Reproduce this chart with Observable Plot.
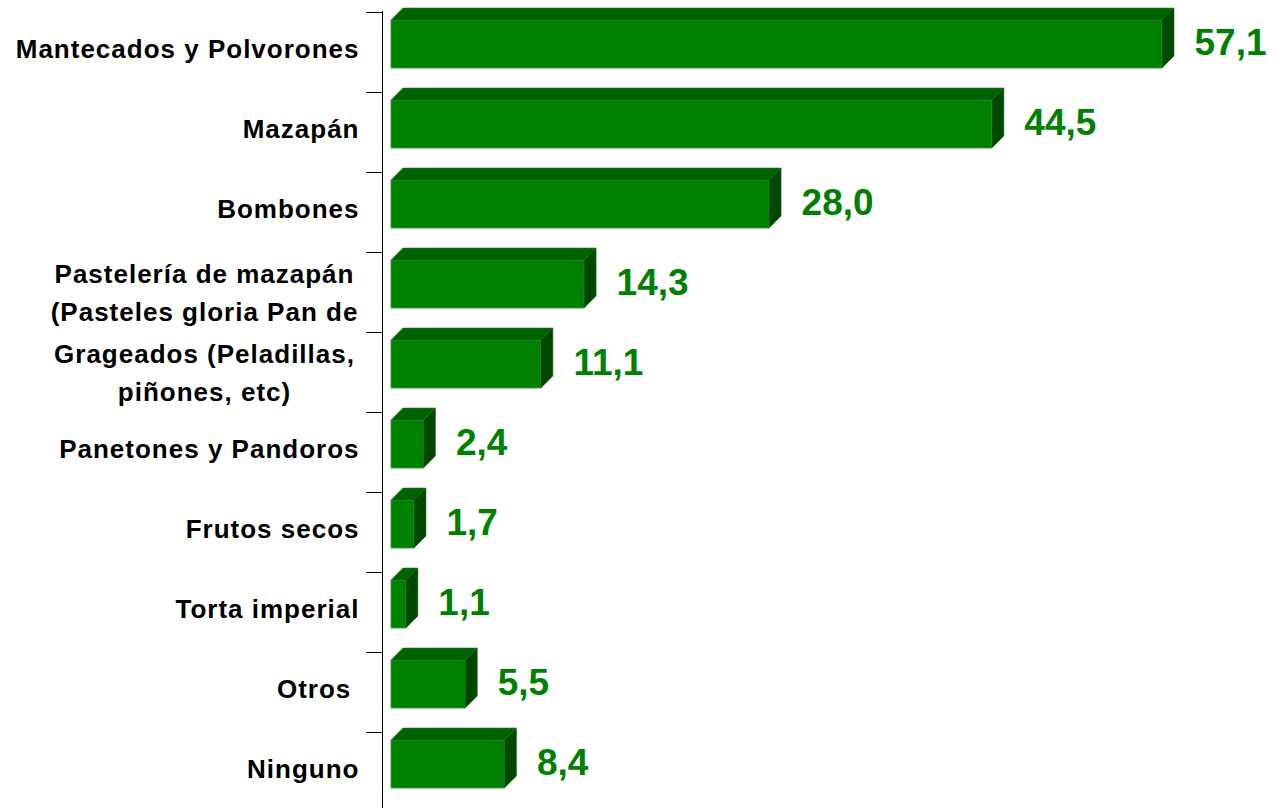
<!DOCTYPE html>
<html>
<head>
<meta charset="utf-8">
<script src="https://cdn.jsdelivr.net/npm/d3@7"></script>
<script src="https://cdn.jsdelivr.net/npm/@observablehq/plot@0.6"></script>
<style>
  html, body { margin: 0; padding: 0; background: #fff; overflow: hidden; }
  svg text { white-space: pre; }
</style>
</head>
<body>
<div id="chart"></div>
<script>
const categories = [
  "Mantecados y Polvorones",
  "Mazapán",
  "Bombones",
  "Pastelería de mazapán\n(Pasteles gloria Pan de",
  "Grageados (Peladillas,\npiñones, etc)",
  "Panetones y Pandoros",
  "Frutos secos",
  "Torta imperial",
  "Otros ",
  "Ninguno"
];
const values = [57.1, 44.5, 28.0, 14.3, 11.1, 2.4, 1.7, 1.1, 5.5, 8.4];

const data = categories.map((c, i) => ({cat: c, value: values[i]}));
const fmt = v => d3.format(".1f")(v).replace(".", ",");

const FRONT = "#008000", TOP = "#006200", SIDE = "#004700";
const DEPTH = 12;

const chart = Plot.plot({
  width: 1278,
  height: 808,
  marginLeft: 391,
  marginRight: 116,
  marginTop: 11,
  marginBottom: 0,
  x: {domain: [0, 57.1], axis: null},
  y: {domain: categories, range: [12, 812], padding: 0, axis: null},
  style: {fontFamily: "'Liberation Sans', Arial, sans-serif", background: "#fff"},
  marks: [
    Plot.ruleX([0], {dx: -9, stroke: "#000", strokeWidth: 1}),
    Plot.barX(data, {x: "value", y: "cat", fill: FRONT, stroke: "#2f9a2f", strokeWidth: 0.8, insetTop: 8, insetBottom: 24}),
    Plot.text(data.filter(d => !d.cat.includes("\n")), {
      y: "cat", text: "cat", frameAnchor: "left", textAnchor: "end",
      dx: -32, dy: -3, fontSize: 26, fontWeight: "bold", fill: "#000"
    }),
    Plot.text(data.filter(d => d.cat.includes("\n")), {
      y: "cat", text: "cat", frameAnchor: "left", textAnchor: "middle",
      dx: -187, dy: -3, fontSize: 26, fontWeight: "bold", fill: "#000",
      lineHeight: 1.48
    }),
    Plot.text(data, {
      x: "value", y: "cat", text: d => fmt(d.value), textAnchor: "start",
      dx: 32, dy: -9, fontSize: 37, fontWeight: "bold", fill: FRONT
    })
  ]
});

// widen category labels (reference text is horizontally stretched)
const textGroups = chart.querySelectorAll('g[aria-label="text"]');
[textGroups[0], textGroups[1]].forEach(gr => { if (gr) gr.style.letterSpacing = "1px"; });

// 3D faces and category ticks from Plot's own scales
const xs = chart.scale("x"), ys = chart.scale("y");
const bw = ys.bandwidth;
const g = d3.create("svg:g");
const x0 = xs.apply(0);
data.forEach(d => {
  const y0 = ys.apply(d.cat);
  const top = y0 + 8, bottom = y0 + bw - 24;
  const x1 = xs.apply(d.value);
  g.append("polygon")
    .attr("points", [[x0, top], [x1, top], [x1 + DEPTH, top - DEPTH], [x0 + DEPTH, top - DEPTH]].join(" "))
    .attr("fill", TOP).attr("stroke", "#1f7a1f").attr("stroke-width", 0.6);
  g.append("polygon")
    .attr("points", [[x1, top], [x1 + DEPTH, top - DEPTH], [x1 + DEPTH, bottom - DEPTH], [x1, bottom]].join(" "))
    .attr("fill", SIDE).attr("stroke", "#1f6a1f").attr("stroke-width", 0.6);
  g.append("line")
    .attr("x1", x0 - 25).attr("x2", x0 - 9)
    .attr("y1", Math.round(y0) + 0.5).attr("y2", Math.round(y0) + 0.5)
    .attr("stroke", "#000").attr("stroke-width", 1);
});
const barG = chart.querySelector('g[aria-label="bar"]');
if (barG) chart.insertBefore(g.node(), barG.nextSibling); else chart.appendChild(g.node());

document.getElementById("chart").appendChild(chart);
</script>
</body>
</html>
